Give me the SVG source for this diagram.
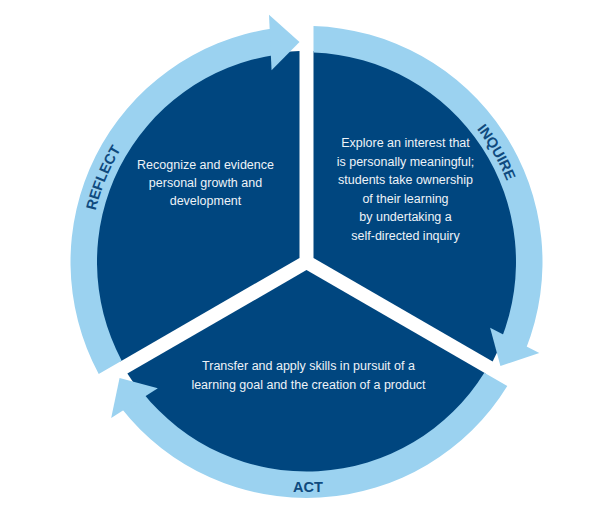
<svg xmlns="http://www.w3.org/2000/svg" width="600" height="531" viewBox="0 0 600 531">
  <style>
    .sector { fill: #00467f; }
    .band { fill: #9bd2f0; }
    .body { font-family: "Liberation Sans", Arial, sans-serif; font-size: 12.5px; fill: #eef3f8; text-anchor: middle; }
    .label { font-family: "Liberation Sans", Arial, sans-serif; font-size: 14.5px; font-weight: bold; fill: #0f4a7e; text-anchor: middle; }
  </style>
  <defs>
    <path id="arcReflect" d="M99.5,327.3 A217,217 0 0 1 206.3,69.5" fill="none"/>
    <path id="arcInquire" d="M380.4,59 A216,216 0 0 1 519.2,299.5" fill="none"/>
  </defs>
  <rect width="600" height="531" fill="#ffffff"/>

  <g id="inquire">
    <path class="sector" d="M313.5,257.96 L313.5,51.12 A211,211 0 0 1 492.63,361.38 Z"/>
    <text class="body" x="405.5" y="147">Explore an interest that</text>
    <text class="body" x="405.5" y="165.6">is personally meaningful;</text>
    <text class="body" x="405.5" y="184.2">students take ownership</text>
    <text class="body" x="405.5" y="202.8">of their learning</text>
    <text class="body" x="405.5" y="221.4">by undertaking a</text>
    <text class="body" x="405.5" y="240">self-directed inquiry</text>
  </g>

  <g id="act">
    <path class="sector" d="M306.5,270.08 L485.64,373.49 A211,211 0 0 1 127.36,373.49 Z"/>
    <text class="body" x="308.5" y="369.5">Transfer and apply skills in pursuit of a</text>
    <text class="body" x="308.5" y="388.5">learning goal and the creation of a product</text>
  </g>

  <g id="reflect">
    <path class="sector" d="M299.5,257.96 L120.37,361.38 A211,211 0 0 1 299.5,51.12 Z"/>
    <text class="body" x="205.5" y="168.5">Recognize and evidence</text>
    <text class="body" x="205.5" y="186.5">personal growth and</text>
    <text class="body" x="205.5" y="204.5">development</text>
  </g>

  <g id="connectors">
    <g id="arrow-inquire">
      <path class="band" d="M313.5,26.1 A236,236 0 0 1 525.81,349.17 L501.19,339.38 A209.5,209.5 0 0 0 313.5,52.62 Z"/>
      <polygon class="band" points="500.43,365.88 539.3,353.12 490.11,327.66"/>
      <text class="label"><textPath href="#arcInquire" startOffset="50%">INQUIRE</textPath></text>
    </g>
    <g id="arrow-act">
      <path class="band" d="M507.3,386.01 A236,236 0 0 1 121.36,408.34 L142.15,391.9 A209.5,209.5 0 0 0 484.33,372.75 Z"/>
      <polygon class="band" points="119.57,378.01 111.19,418.04 157.84,388.18"/>
      <text class="label" x="308" y="492">ACT</text>
    </g>
    <g id="arrow-reflect">
      <path class="band" d="M98.71,373.88 A236,236 0 0 1 272.34,28.49 L276.17,54.71 A209.5,209.5 0 0 0 121.67,360.63 Z"/>
      <polygon class="band" points="299.5,42.11 269.01,14.82 271.56,70.16"/>
      <text class="label"><textPath href="#arcReflect" startOffset="50%">REFLECT</textPath></text>
    </g>
  </g>
</svg>
